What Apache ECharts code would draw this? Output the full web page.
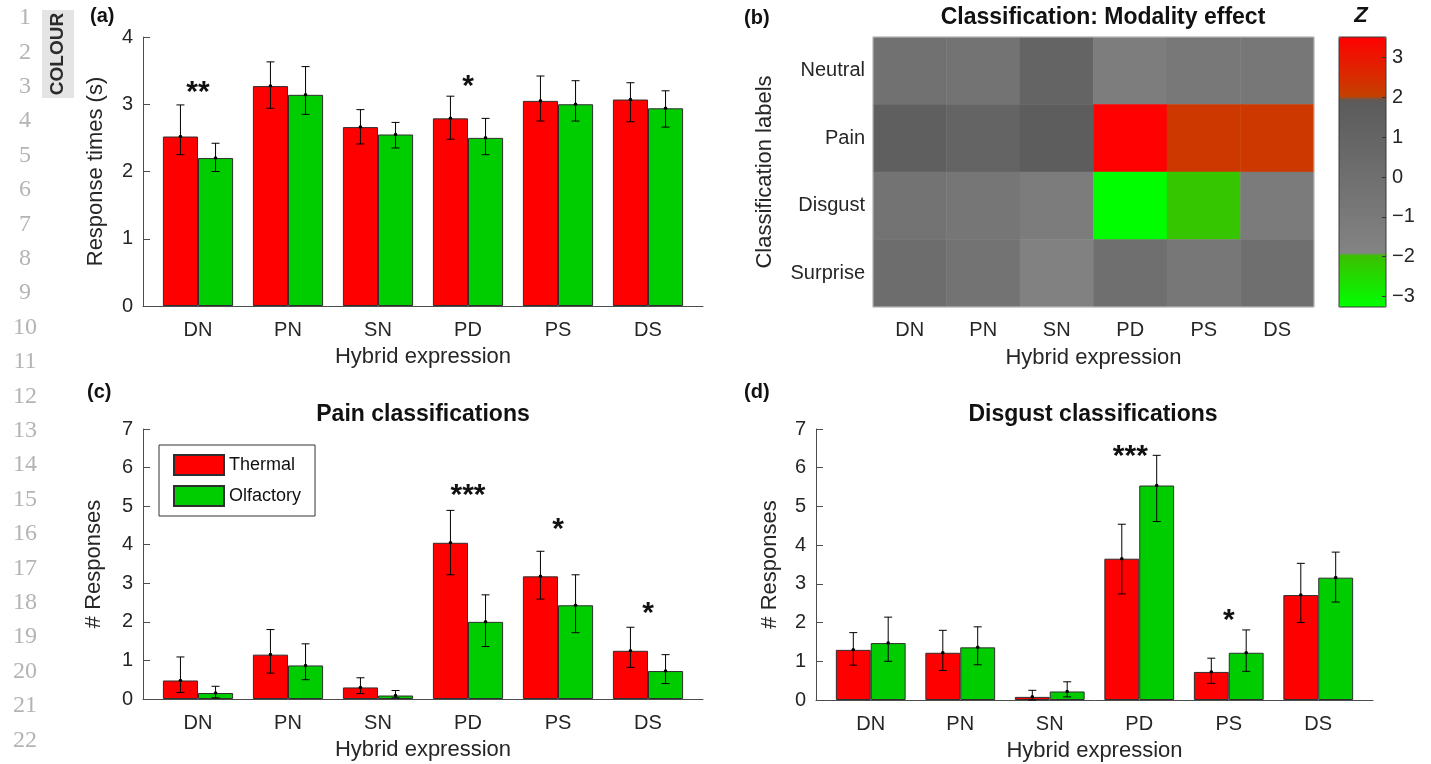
<!DOCTYPE html>
<html>
<head>
<meta charset="utf-8">
<title>Hybrid expression classifications</title>
<script src="https://cdn.jsdelivr.net/npm/echarts@6/dist/echarts.min.js"></script>
<style>
html, body { margin: 0; padding: 0; background: #fff; }
#chart { width: 1431px; height: 764px; }
</style>
</head>
<body>
<div id="chart"></div>
<script>
// categories
var categories = ['DN', 'PN', 'SN', 'PD', 'PS', 'DS'];
var rowLabels = ['Neutral', 'Pain', 'Disgust', 'Surprise'];

// (a) response times (s)
var rtThermal   = [2.52, 3.27, 2.66, 2.79, 3.05, 3.07];
var rtThermalLo = [2.25, 2.94, 2.41, 2.48, 2.75, 2.74];
var rtThermalHi = [2.99, 3.63, 2.92, 3.12, 3.42, 3.32];
var rtOlf       = [2.20, 3.14, 2.55, 2.50, 3.00, 2.94];
var rtOlfLo     = [2.00, 2.85, 2.35, 2.25, 2.75, 2.66];
var rtOlfHi     = [2.42, 3.56, 2.73, 2.79, 3.35, 3.20];
var rtStars     = ['**', '', '', '*', '', ''];
var rtStarY     = [3.27, 0, 0, 3.36, 0, 0];
var rtStarShift = [0, 0, 0, 0, 0, 0];

// (c) pain classifications
var painThermal   = [0.48, 1.15, 0.30, 4.05, 3.18, 1.25];
var painThermalLo = [0.17, 0.67, 0.14, 3.22, 2.59, 0.82];
var painThermalHi = [1.09, 1.80, 0.55, 4.89, 3.83, 1.86];
var painOlf       = [0.155, 0.87, 0.09, 2.00, 2.43, 0.725];
var painOlfLo     = [0.03, 0.50, 0.03, 1.36, 1.72, 0.40];
var painOlfHi     = [0.33, 1.43, 0.22, 2.70, 3.22, 1.15];
var painStars     = ['', '', '', '***', '*', '*'];
var painStarY     = [0, 0, 0, 5.46, 4.56, 2.38];
var painStarShift = [0, 0, 0, 0, 0, 0];

// (d) disgust classifications
var disThermal   = [1.295, 1.22, 0.08, 3.65, 0.725, 2.71];
var disThermalLo = [0.90, 0.76, 0.0, 2.74, 0.43, 2.00];
var disThermalHi = [1.74, 1.80, 0.25, 4.54, 1.08, 3.53];
var disOlf       = [1.47, 1.36, 0.22, 5.54, 1.22, 3.16];
var disOlfLo     = [1.00, 0.91, 0.08, 4.61, 0.74, 2.53];
var disOlfHi     = [2.14, 1.89, 0.47, 6.32, 1.81, 3.82];
var disStars     = ['', '', '', '***', '*', ''];
var disStarY     = [0, 0, 0, 6.46, 2.24, 0];
var disStarShift = [0, 0, 0, -0.1, 0, 0];

// (b) modality effect Z, one row per classification label
var zNeutral  = [-0.20, -0.39, 0.98, -1.27, -0.88, -0.78];
var zPain     = [1.47, 0.98, 1.67, 3.50, 2.20, 2.20];
var zDisgust  = [-0.39, -0.69, -1.18, -3.24, -2.10, -1.08];
var zSurprise = [0.20, -0.39, -1.67, 0.00, -0.78, 0.00];
var zMin = -3.26, zMax = 3.51;

var FONT = 'Liberation Sans, Arial, sans-serif';
var TXT = '#262626';
var AXIS = '#4d4d4d';
var RED = '#ff0000', GREEN = '#00cd00', EDGE = '#2e2e2e';

// colour scale: green below -1.96, grey ramp, red above 1.96
var colourStops = [[-3.26, '#00ff00'], [-1.96, '#3cbf00'], [-1.96, '#848484'],
                   [1.96, '#5a5a5a'], [1.96, '#c24300'], [3.51, '#ff0000']];
function hexRgb(h) { return [parseInt(h.substr(1, 2), 16), parseInt(h.substr(3, 2), 16), parseInt(h.substr(5, 2), 16)]; }
function colourAt(z) {
    for (var k = 0; k < colourStops.length - 1; k++) {
        var a = colourStops[k], b = colourStops[k + 1];
        if (b[0] > a[0] && z >= a[0] && z <= b[0]) {
            var t = (z - a[0]) / (b[0] - a[0]), ca = hexRgb(a[1]), cb = hexRgb(b[1]);
            return 'rgb(' + ca.map(function (v, j) { return Math.round(v + (cb[j] - v) * t); }).join(',') + ')';
        }
    }
    return z < 0 ? colourStops[0][1] : colourStops[colourStops.length - 1][1];
}
var rampColours = [];
for (var s = 0; s < 400; s++) rampColours.push(colourAt(zMin + (zMax - zMin) * s / 399));

var grids = [], xAxes = [], yAxes = [], series = [];

function errorRender(side) {
    return function (params, api) {
        var i = api.value(0);
        var band = api.size([1, 0])[0];
        var x = api.coord([i, 0])[0] + side * band * 0.195;
        var yLo = api.coord([i, api.value(1)])[1];
        var yHi = api.coord([i, api.value(2)])[1];
        var yM = api.coord([i, api.value(3)])[1];
        var st = { stroke: '#000', lineWidth: 1 };
        return {
            type: 'group',
            children: [
                { type: 'line', shape: { x1: x, y1: yLo, x2: x, y2: yHi }, style: st },
                { type: 'line', shape: { x1: x - 4, y1: yLo, x2: x + 4, y2: yLo }, style: st },
                { type: 'line', shape: { x1: x - 4, y1: yHi, x2: x + 4, y2: yHi }, style: st },
                { type: 'circle', shape: { cx: x, cy: yM, r: 1.8 }, style: { fill: '#000' } }
            ]
        };
    };
}

function starRender(labels, shifts) {
    return function (params, api) {
        var i = params.dataIndex;
        if (!labels[i]) return null;
        var band = api.size([1, 0])[0];
        var p = api.coord([api.value(0), api.value(1)]);
        return {
            type: 'text', x: p[0] + shifts[i] * band, y: p[1] + 7,
            style: { text: labels[i], font: 'bold 30px ' + FONT, fill: '#111',
                     textAlign: 'center', align: 'center', textVerticalAlign: 'middle', verticalAlign: 'middle' }
        };
    };
}

function addBarPanel(box, yMax, yName, yGap, d) {
    var gf = grids.length;
    grids.push({ left: box.left, top: box.top, width: box.width, height: box.height });
    grids.push({ left: box.left + 10, top: box.top, width: box.width - 20, height: box.height });
    xAxes.push({ gridIndex: gf, type: 'value', min: 0, max: 1,
        axisLine: { show: true, lineStyle: { color: AXIS } }, axisTick: { show: false },
        axisLabel: { show: false }, splitLine: { show: false } });
    yAxes.push({ gridIndex: gf, type: 'value', min: 0, max: yMax, interval: 1,
        axisLine: { show: true, onZero: false, lineStyle: { color: AXIS } },
        axisTick: { show: true, inside: true, length: 7, lineStyle: { color: AXIS } },
        axisLabel: { fontSize: 20, color: TXT, margin: 10 }, splitLine: { show: false },
        name: yName, nameLocation: 'middle', nameGap: yGap, nameTextStyle: { fontSize: 22, color: TXT } });
    xAxes.push({ gridIndex: gf + 1, type: 'category', data: categories,
        axisLine: { show: false }, axisTick: { show: false },
        axisLabel: { fontSize: 20, color: TXT, margin: 14, interval: 0 },
        name: 'Hybrid expression', nameLocation: 'middle', nameGap: 40,
        nameTextStyle: { fontSize: 22, color: TXT } });
    yAxes.push({ gridIndex: gf + 1, type: 'value', min: 0, max: yMax, show: false });
    var ax = gf + 1;
    var pack = function (m, lo, hi) { return m.map(function (v, i) { return [i, lo[i], hi[i], v]; }); };
    series.push({ name: 'Thermal', type: 'bar', xAxisIndex: ax, yAxisIndex: ax, data: d.t,
        barGap: '0%', barCategoryGap: '22%',
        itemStyle: { color: RED, borderColor: EDGE, borderWidth: 1 }, emphasis: { disabled: true } });
    series.push({ name: 'Olfactory', type: 'bar', xAxisIndex: ax, yAxisIndex: ax, data: d.o,
        barGap: '0%', barCategoryGap: '22%',
        itemStyle: { color: GREEN, borderColor: EDGE, borderWidth: 1 }, emphasis: { disabled: true } });
    series.push({ type: 'custom', xAxisIndex: ax, yAxisIndex: ax, renderItem: errorRender(-1),
        data: pack(d.t, d.tLo, d.tHi), encode: { x: 0, y: [1, 2] }, z: 5, silent: true });
    series.push({ type: 'custom', xAxisIndex: ax, yAxisIndex: ax, renderItem: errorRender(1),
        data: pack(d.o, d.oLo, d.oHi), encode: { x: 0, y: [1, 2] }, z: 5, silent: true });
    series.push({ type: 'custom', xAxisIndex: ax, yAxisIndex: ax, renderItem: starRender(d.stars, d.shift),
        data: d.starY.map(function (v, i) { return [i, v]; }), encode: { x: 0, y: 1 }, z: 6, silent: true });
}

addBarPanel({ left: 143, top: 37, width: 560, height: 269 }, 4, 'Response times (s)', 36,
    { t: rtThermal, tLo: rtThermalLo, tHi: rtThermalHi, o: rtOlf, oLo: rtOlfLo, oHi: rtOlfHi,
      stars: rtStars, starY: rtStarY, shift: rtStarShift });
addBarPanel({ left: 143, top: 429, width: 560, height: 270 }, 7, '# Responses', 38,
    { t: painThermal, tLo: painThermalLo, tHi: painThermalHi, o: painOlf, oLo: painOlfLo, oHi: painOlfHi,
      stars: painStars, starY: painStarY, shift: painStarShift });
addBarPanel({ left: 816, top: 429, width: 557, height: 271 }, 7, '# Responses', 35,
    { t: disThermal, tLo: disThermalLo, tHi: disThermalHi, o: disOlf, oLo: disOlfLo, oHi: disOlfHi,
      stars: disStars, starY: disStarY, shift: disStarShift });

// (b) heatmap
var hmIndex = grids.length;
grids.push({ left: 873, top: 37, width: 441, height: 270, show: true, z: 3,
    backgroundColor: 'transparent', borderColor: '#c4c4c4', borderWidth: 1 });
xAxes.push({ gridIndex: hmIndex, type: 'category', data: categories,
    axisLine: { show: false }, axisTick: { show: false }, splitLine: { show: false },
    axisLabel: { fontSize: 20, color: TXT, margin: 13, interval: 0 },
    name: 'Hybrid expression', nameLocation: 'middle', nameGap: 40, nameTextStyle: { fontSize: 22, color: TXT } });
yAxes.push({ gridIndex: hmIndex, type: 'category', data: rowLabels, inverse: true,
    axisLine: { show: false }, axisTick: { show: false }, splitLine: { show: false },
    axisLabel: { fontSize: 20, color: TXT, margin: 8, interval: 0 },
    name: 'Classification labels', nameLocation: 'middle', nameGap: 97, nameTextStyle: { fontSize: 22, color: TXT } });
var zRows = [zNeutral, zPain, zDisgust, zSurprise];
var hmData = [];
zRows.forEach(function (row, r) { row.forEach(function (z, c) { hmData.push([c, r, z]); }); });
var hmSeriesIndex = series.length;
series.push({ type: 'heatmap', xAxisIndex: hmIndex, yAxisIndex: hmIndex, data: hmData,
    emphasis: { disabled: true }, itemStyle: { borderWidth: 0 }, progressive: 0 });

// colour bar axis (ticks on the right edge, pointing inward)
var cbIndex = grids.length;
grids.push({ left: 1339, top: 37, width: 47, height: 270, show: true, z: 6,
    backgroundColor: 'transparent', borderColor: '#3a3a3a', borderWidth: 1 });
xAxes.push({ gridIndex: cbIndex, type: 'value', min: 0, max: 1, show: false });
yAxes.push({ gridIndex: cbIndex, type: 'value', position: 'right', min: zMin, max: zMax, splitNumber: 7, z: 10,
    axisLine: { show: false, onZero: false }, splitLine: { show: false },
    axisTick: { show: true, inside: true, length: 4, lineStyle: { color: '#333' } },
    axisLabel: { fontSize: 20, color: TXT, margin: 6, showMinLabel: false, showMaxLabel: false,
        formatter: function (v) { return Math.abs(v - Math.round(v)) < 1e-6 ? (v < 0 ? '\u2212' + (-v) : String(v)) : ''; } } });

// page decorations: line numbers, colour tag, panel labels and titles
var graphics = [];
for (var n = 1; n <= 22; n++) {
    graphics.push({ type: 'text', x: 25, y: 18 + (n - 1) * 34.4, silent: true,
        style: { text: String(n), font: '24px Liberation Serif, DejaVu Serif, serif', fill: '#b4b4b4',
                 textAlign: 'center', align: 'center', textVerticalAlign: 'middle', verticalAlign: 'middle' } });
}
graphics.push({ type: 'rect', shape: { x: 42, y: 10, width: 32, height: 88 }, style: { fill: '#e4e4e4' }, silent: true });
graphics.push({ type: 'text', x: 58, y: 54, rotation: Math.PI / 2, silent: true,
    style: { text: 'COLOUR', font: 'bold 19px ' + FONT, fill: '#2b2b2b',
             textAlign: 'center', align: 'center', textVerticalAlign: 'middle', verticalAlign: 'middle' } });
function label(txt, x, y, font, al) {
    graphics.push({ type: 'text', x: x, y: y, silent: true,
        style: { text: txt, font: font, fill: '#111', textAlign: al, align: al,
                 textVerticalAlign: 'middle', verticalAlign: 'middle' } });
}
label('(a)', 90, 16, 'bold 20px ' + FONT, 'left');
label('(b)', 744, 18, 'bold 20px ' + FONT, 'left');
label('(c)', 87, 392, 'bold 20px ' + FONT, 'left');
label('(d)', 744, 392, 'bold 20px ' + FONT, 'left');
label('Classification: Modality effect', 1103, 18, 'bold 23px ' + FONT, 'center');
label('Pain classifications', 423, 415, 'bold 23px ' + FONT, 'center');
label('Disgust classifications', 1093, 415, 'bold 23px ' + FONT, 'center');
label('Z', 1361, 16, 'bold italic 22px ' + FONT, 'center');

var myChart = echarts.init(document.getElementById('chart'), null, { renderer: 'canvas' });
var option = {
    backgroundColor: '#fff',
    animation: false,
    textStyle: { fontFamily: FONT },
    grid: grids,
    xAxis: xAxes,
    yAxis: yAxes,
    legend: {
        data: ['Thermal', 'Olfactory'], orient: 'vertical', left: 159, top: 445,
        icon: 'rect', itemWidth: 50, itemHeight: 20, itemGap: 9,
        padding: [9, 14, 9, 14], borderColor: '#333', borderWidth: 1, backgroundColor: '#fff',
        textStyle: { fontSize: 18, color: '#111' }, selectedMode: false
    },
    visualMap: {
        type: 'continuous', min: zMin, max: zMax, seriesIndex: hmSeriesIndex,
        inRange: { color: rampColours }, calculable: false, hoverLink: false,
        itemWidth: 47, itemHeight: 270, left: 1339, top: 37, padding: 0, text: null, orient: 'vertical'
    },
    graphic: graphics,
    series: series
};
myChart.setOption(option);
window.onresize = function () { myChart.resize(); };
</script>
</body>
</html>
